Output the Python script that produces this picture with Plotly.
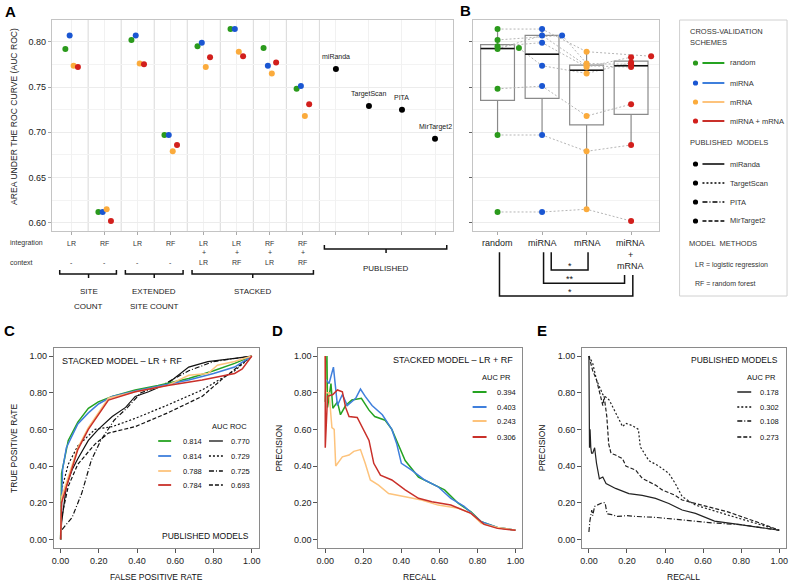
import numpy as np
import plotly.graph_objects as go

W, H = 796, 587
def px(x): return x / W
def py(y): return 1 - y / H

FONT = "Liberation Sans, Arial, sans-serif"

# ---------------- data ----------------
model_integration = ["LR", "RF", "LR", "RF", "LR", "LR", "RF", "RF"]
model_context = ["-", "-", "-", "-", "LR", "RF", "LR", "RF"]
schemes = ["random", "miRNA", "mRNA", "miRNA + mRNA"]
auc_random = [0.792, 0.612, 0.802, 0.697, 0.795, 0.814, 0.793, 0.748]
auc_mirna = [0.807, 0.612, 0.807, 0.697, 0.799, 0.814, 0.7735, 0.751]
auc_mrna = [0.7735, 0.615, 0.776, 0.679, 0.772, 0.789, 0.765, 0.718]
auc_both = [0.772, 0.602, 0.775, 0.686, 0.783, 0.784, 0.777, 0.731]
published = ["miRanda", "TargetScan", "PITA", "MirTarget2"]
auc_published = [0.770, 0.729, 0.725, 0.693]
y_ticks_a = [0.60, 0.65, 0.70, 0.75, 0.80]
unit_ticks = [0, 0.2, 0.4, 0.6, 0.8, 1.0]

# ROC curves (panel C)
roc_green_fpr = [0, 0.005, 0.04, 0.09, 0.145, 0.197, 0.27, 0.39, 0.51, 0.67, 0.80, 0.91, 1.0]
roc_green_tpr = [0, 0.36, 0.54, 0.64, 0.715, 0.75, 0.78, 0.815, 0.84, 0.878, 0.92, 0.96, 1.0]
roc_blue_fpr = [0, 0.01, 0.03, 0.09, 0.145, 0.2, 0.27, 0.39, 0.51, 0.67, 0.80, 0.91, 1.0]
roc_blue_tpr = [0, 0.38, 0.5, 0.63, 0.69, 0.74, 0.78, 0.81, 0.835, 0.87, 0.905, 0.94, 1.0]
roc_orange_fpr = [0, 0.005, 0.04, 0.09, 0.145, 0.197, 0.25, 0.39, 0.56, 0.67, 0.77, 0.82, 0.91, 1.0]
roc_orange_tpr = [0, 0.23, 0.34, 0.5, 0.61, 0.69, 0.77, 0.805, 0.84, 0.895, 0.905, 0.95, 0.97, 1.0]
roc_red_fpr = [0, 0.005, 0.04, 0.09, 0.145, 0.197, 0.25, 0.39, 0.56, 0.74, 0.82, 0.91, 0.95, 1.0]
roc_red_tpr = [0, 0.2, 0.32, 0.49, 0.6, 0.68, 0.76, 0.805, 0.84, 0.87, 0.887, 0.905, 0.93, 1.0]
roc_miranda_fpr = [0, 0.005, 0.03, 0.06, 0.09, 0.145, 0.197, 0.27, 0.34, 0.39, 0.46, 0.56, 0.67, 0.77, 0.91, 1.0]
roc_miranda_tpr = [0, 0.09, 0.29, 0.38, 0.44, 0.54, 0.6, 0.67, 0.72, 0.78, 0.805, 0.85, 0.94, 0.97, 0.987, 1.0]
roc_targetscan_fpr = [0, 0.005, 0.04, 0.09, 0.18, 0.27, 0.39, 0.56, 0.74, 0.91, 1.0]
roc_targetscan_tpr = [0, 0.27, 0.41, 0.51, 0.6, 0.615, 0.66, 0.733, 0.815, 0.92, 1.0]
roc_pita_fpr = [0, 0.005, 0.06, 0.11, 0.16, 0.21, 0.28, 0.35, 0.42, 0.53, 0.67, 0.8, 1.0]
roc_pita_tpr = [0, 0.05, 0.12, 0.25, 0.43, 0.54, 0.65, 0.72, 0.8, 0.84, 0.92, 0.97, 1.0]
roc_mirtarget2_fpr = [0, 0.005, 0.04, 0.09, 0.18, 0.25, 0.39, 0.56, 0.74, 0.84, 0.95, 1.0]
roc_mirtarget2_tpr = [0, 0.12, 0.29, 0.41, 0.52, 0.58, 0.615, 0.69, 0.78, 0.87, 0.96, 1.0]
auc_roc_stacked = ["0.814", "0.814", "0.788", "0.784"]
auc_roc_published = ["0.770", "0.729", "0.725", "0.693"]

# PR curves (panel D)
pr_green_rec = [0, 0.009, 0.012, 0.03, 0.04, 0.064, 0.08, 0.107, 0.14, 0.19, 0.23, 0.26, 0.315, 0.35, 0.385, 0.42, 0.49, 0.56, 0.627, 0.7, 0.766, 0.82, 0.905, 1.0]
pr_green_prec = [0.75, 1.0, 0.72, 0.85, 0.715, 0.75, 0.68, 0.73, 0.76, 0.77, 0.705, 0.67, 0.65, 0.6, 0.515, 0.43, 0.34, 0.305, 0.27, 0.196, 0.15, 0.096, 0.065, 0.05]
pr_blue_rec = [0, 0.005, 0.02, 0.043, 0.064, 0.09, 0.116, 0.16, 0.185, 0.21, 0.246, 0.3, 0.35, 0.376, 0.4, 0.454, 0.523, 0.593, 0.66, 0.73, 0.82, 0.905, 1.0]
pr_blue_prec = [0.87, 0.87, 0.85, 0.94, 0.73, 0.79, 0.73, 0.77, 0.82, 0.78, 0.73, 0.68, 0.6, 0.52, 0.415, 0.378, 0.324, 0.287, 0.224, 0.18, 0.096, 0.065, 0.05]
pr_orange_rec = [0, 0.003, 0.02, 0.035, 0.047, 0.055, 0.09, 0.125, 0.15, 0.185, 0.21, 0.237, 0.28, 0.333, 0.42, 0.506, 0.593, 0.7, 0.766, 0.82, 0.905, 1.0]
pr_orange_prec = [1.0, 0.8, 0.8, 0.61, 0.6, 0.4, 0.45, 0.46, 0.48, 0.49, 0.415, 0.324, 0.296, 0.25, 0.233, 0.215, 0.187, 0.17, 0.142, 0.087, 0.065, 0.05]
pr_red_rec = [0, 0, 0.012, 0.04, 0.064, 0.09, 0.107, 0.125, 0.168, 0.194, 0.23, 0.255, 0.29, 0.35, 0.42, 0.49, 0.56, 0.66, 0.766, 0.835, 0.905, 1.0]
pr_red_prec = [1.0, 0.5, 0.78, 0.79, 0.815, 0.805, 0.72, 0.67, 0.665, 0.615, 0.54, 0.415, 0.35, 0.324, 0.27, 0.224, 0.205, 0.187, 0.142, 0.082, 0.06, 0.05]
auc_pr_stacked = ["0.394", "0.403", "0.243", "0.306"]

# PR curves (panel E)
pr_miranda_rec = [0, 0.003, 0.006, 0.01, 0.014, 0.02, 0.03, 0.04, 0.055, 0.073, 0.09, 0.14, 0.21, 0.28, 0.35, 0.42, 0.49, 0.56, 0.66, 0.766, 0.905, 1.0]
pr_miranda_prec = [1.0, 0.5, 0.6, 0.5, 0.47, 0.47, 0.5, 0.415, 0.33, 0.34, 0.305, 0.278, 0.25, 0.24, 0.224, 0.196, 0.16, 0.142, 0.1, 0.085, 0.065, 0.05]
pr_targetscan_rec = [0, 0.02, 0.04, 0.073, 0.107, 0.14, 0.177, 0.194, 0.23, 0.26, 0.27, 0.315, 0.367, 0.42, 0.454, 0.49, 0.56, 0.73, 0.905, 1.0]
pr_targetscan_prec = [1.0, 0.96, 0.87, 0.79, 0.76, 0.69, 0.615, 0.633, 0.62, 0.6, 0.505, 0.43, 0.4, 0.36, 0.305, 0.233, 0.187, 0.133, 0.078, 0.05]
pr_pita_rec = [0, 0.005, 0.015, 0.02, 0.03, 0.05, 0.07, 0.085, 0.095, 0.12, 0.15, 0.2, 0.25, 0.35, 0.45, 0.55, 0.65, 0.8, 0.9, 1.0]
pr_pita_prec = [0.04, 0.1, 0.16, 0.13, 0.18, 0.19, 0.2, 0.2, 0.14, 0.135, 0.125, 0.13, 0.125, 0.12, 0.11, 0.1, 0.09, 0.08, 0.065, 0.05]
pr_mirtarget2_rec = [0, 0.02, 0.04, 0.055, 0.073, 0.08, 0.094, 0.104, 0.116, 0.14, 0.177, 0.194, 0.246, 0.28, 0.35, 0.385, 0.454, 0.49, 0.593, 0.73, 0.905, 1.0]
pr_mirtarget2_prec = [1.0, 0.92, 0.87, 0.8, 0.73, 0.78, 0.67, 0.52, 0.47, 0.46, 0.44, 0.4, 0.378, 0.333, 0.296, 0.27, 0.24, 0.215, 0.187, 0.15, 0.087, 0.05]
auc_pr_published = ["0.178", "0.302", "0.108", "0.273"]

# ---------------- styles ----------------
dot_colors = ["#2b9a1c", "#1a56d2", "#fbab3c", "#d21f1c"]
line_colors = ["#25a321", "#3f7fdc", "#fdc37c", "#c9302a"]
pub_dash = ["solid", "2px,2px", "5px,2px,1px,2px", "4px,2px"]
a_offsets = [-0.19, -0.06, 0.06, 0.19]
b_jitter = [[0, 0, 0, 0, 0, 0, 0.48, 0],
            [0, 0, 0.45, 0, 0, 0, 0, 0],
            [0, 0, 0, 0, 0, 0, 0, 0],
            [0, 0, 0, 0, 0, 0.45, 0, 0]]

fig = go.Figure()
anns = []
shapes = []

def text(t, X, Y, size=8, xa="center", ya="middle", color="#222", bold=False, angle=0):
    if bold:
        t = "<b>" + t + "</b>"
    anns.append(dict(text=t, x=px(X), y=py(Y), xref="paper", yref="paper", showarrow=False,
                     xanchor=xa, yanchor=ya, textangle=angle,
                     font=dict(size=size, color=color, family=FONT)))

def seg(x0, y0, x1, y1, color="#000", width=1.5, dash="solid"):
    shapes.append(dict(type="line", xref="paper", yref="paper", x0=px(x0), y0=py(y0),
                       x1=px(x1), y1=py(y1), line=dict(color=color, width=width, dash=dash)))

def path(points, color="#111", width=1.5):
    d = "M " + " L ".join(f"{px(a)},{py(b)}" for a, b in points)
    shapes.append(dict(type="path", xref="paper", yref="paper", path=d,
                       line=dict(color=color, width=width)))

def dot(X, Y, color, r=2.6):
    shapes.append(dict(type="circle", xref="paper", yref="paper", x0=px(X - r), x1=px(X + r),
                       y0=py(Y + r), y1=py(Y - r), fillcolor=color, line=dict(width=0)))

all_auc = [auc_random, auc_mirna, auc_mrna, auc_both]

# ---------------- Panel A ----------------
cols = list(range(1, 9))
for k, vals in enumerate(all_auc):
    fig.add_trace(go.Scatter(x=[c + a_offsets[k] for c in cols], y=vals, mode="markers",
                             marker=dict(color=dot_colors[k], size=6), xaxis="x", yaxis="y",
                             showlegend=False, hoverinfo="skip"))
pub_x = [9, 10, 11, 12]
fig.add_trace(go.Scatter(x=pub_x, y=auc_published, mode="markers",
                         marker=dict(color="#000", size=6), xaxis="x", yaxis="y",
                         showlegend=False, hoverinfo="skip"))
for name, xv, yv in zip(published, pub_x, auc_published):
    anns.append(dict(text=name, x=xv, y=yv, xref="x", yref="y", yshift=12, showarrow=False,
                     font=dict(size=7, color="#222", family=FONT)))
for b in [1.5, 2.5, 3.5, 4.5, 5.5, 6.5, 7.5, 8.5]:
    shapes.append(dict(type="line", xref="x", yref="y domain", x0=b, x1=b, y0=0, y1=1,
                       line=dict(color="#d9d9d9", width=1), layer="below"))
for c, lab in zip(cols, model_integration):
    anns.append(dict(text=lab, x=c, y=py(243), xref="x", yref="paper", showarrow=False,
                     font=dict(size=7, color="#333", family=FONT)))
for c, lab in zip(cols, model_context):
    anns.append(dict(text=lab, x=c, y=py(262), xref="x", yref="paper", showarrow=False,
                     font=dict(size=7, color="#333", family=FONT)))
    if lab != "-":
        anns.append(dict(text="+", x=c, y=py(252.5), xref="x", yref="paper", showarrow=False,
                         font=dict(size=7, color="#333", family=FONT)))
text("integration", 6, 243, 7, xa="left", color="#333")
text("context", 6, 262, 7, xa="left", color="#333")
text("AREA UNDER THE ROC CURVE (AUC ROC)", 12, 116, 8.6, angle=-90, color="#222")

for x0, x1, xc in [(58, 115, 87), (124, 182, 153), (191, 313, 252)]:
    path([(x0, 270), (x0, 274), (x1, 274), (x1, 270)])
    seg(xc, 274, xc, 278, "#111", 1.5)
path([(324, 245), (324, 249), (447, 249), (447, 245)])
seg(386, 249, 386, 253, "#111", 1.5)
text("SITE", 87, 292, 8)
text("COUNT", 87, 306, 8)
text("EXTENDED", 153, 292, 8)
text("SITE COUNT", 153, 306, 8)
text("STACKED", 252, 292, 8)
text("PUBLISHED", 386, 268, 8)

# ---------------- Panel B ----------------
for m in range(8):
    xs = [k + 1 + b_jitter[k][m] for k in range(4)]
    ys = [all_auc[k][m] for k in range(4)]
    fig.add_trace(go.Scatter(x=xs, y=ys, mode="lines", line=dict(color="#b5b5b5", width=1, dash="2px,2px"),
                             xaxis="x2", yaxis="y2", showlegend=False, hoverinfo="skip"))
for k, vals in enumerate(all_auc):
    v = np.array(vals)
    q1, med, q3 = np.percentile(v, [25, 50, 75])
    iqr = q3 - q1
    lf = v[v >= q1 - 1.5 * iqr].min()
    uf = v[v <= q3 + 1.5 * iqr].max()
    fig.add_trace(go.Box(x=[k + 1], q1=[q1], median=[med], q3=[q3], lowerfence=[lf], upperfence=[uf],
                         orientation="v", width=0.76, whiskerwidth=0, boxpoints=False,
                         line=dict(color="#8a8a8a", width=1.2), fillcolor="rgba(255,255,255,0)",
                         xaxis="x2", yaxis="y2", showlegend=False, hoverinfo="skip"))
    fig.add_trace(go.Scatter(x=[k + 1 - 0.38, k + 1 + 0.38], y=[med, med], mode="lines",
                             line=dict(color="#111", width=1.5), xaxis="x2", yaxis="y2",
                             showlegend=False, hoverinfo="skip"))
for k, vals in enumerate(all_auc):
    fig.add_trace(go.Scatter(x=[k + 1 + j for j in b_jitter[k]], y=vals, mode="markers",
                             marker=dict(color=dot_colors[k], size=6), xaxis="x2", yaxis="y2",
                             showlegend=False, hoverinfo="skip"))
b_label_x = [498, 543, 588, 632]
for xl, lab in zip(b_label_x, ["random", "miRNA", "mRNA", "miRNA"]):
    text(lab, xl, 243, 9, color="#222")
text("+", 632, 254.5, 9, color="#222")
text("mRNA", 632, 266, 9, color="#222")
path([(552, 252.3), (552, 270), (589, 270), (589, 252.3)], "#111", 1.5)
path([(544.3, 252.3), (544.3, 283.3), (625.7, 283.3), (625.7, 275)], "#111", 1.5)
path([(500, 252.3), (500, 296), (634, 296), (634, 275)], "#111", 1.5)
text("*", 571, 266, 9, color="#111")
text("**", 571, 279, 9, color="#111")
text("*", 571, 292, 9, color="#111")

# legend box
shapes.append(dict(type="rect", xref="paper", yref="paper", x0=px(681), x1=px(789), y0=py(296), y1=py(20),
                   line=dict(color="#d0d0d0", width=1)))
text("CROSS-VALIDATION", 689, 31, 7.5, xa="left", color="#333")
text("SCHEMES", 689, 43, 7.5, xa="left", color="#333")
for k, (yy, lab) in enumerate(zip([63, 83, 102, 121], schemes)):
    dot(697, yy, dot_colors[k])
    seg(704, yy, 726, yy, line_colors[k], 2)
    text(lab, 730, yy, 7.5, xa="left", color="#333")
text("PUBLISHED  MODELS", 689, 143, 7.5, xa="left", color="#333")
for k, (yy, lab) in enumerate(zip([164, 183, 202, 221], published)):
    dot(697, yy, "#000")
    seg(704, yy, 726, yy, "#000", 1.5, pub_dash[k])
    text(lab, 730, yy, 7.5, xa="left", color="#333")
text("MODEL  METHODS", 688, 243, 7.5, xa="left", color="#333")
text("LR = logistic regression", 694, 265, 7, xa="left", color="#333")
text("RF = random forest", 694, 284, 7, xa="left", color="#333")

# ---------------- Panel C ----------------
stacked_roc = [(roc_green_fpr, roc_green_tpr), (roc_blue_fpr, roc_blue_tpr),
               (roc_orange_fpr, roc_orange_tpr), (roc_red_fpr, roc_red_tpr)]
pub_roc = [(roc_miranda_fpr, roc_miranda_tpr), (roc_targetscan_fpr, roc_targetscan_tpr),
           (roc_pita_fpr, roc_pita_tpr), (roc_mirtarget2_fpr, roc_mirtarget2_tpr)]
for k, (xx, yy) in enumerate(pub_roc):
    fig.add_trace(go.Scatter(x=xx, y=yy, mode="lines", line=dict(color="#111", width=1.2, dash=pub_dash[k]),
                             xaxis="x3", yaxis="y3", showlegend=False, hoverinfo="skip"))
for k, (xx, yy) in enumerate(stacked_roc):
    fig.add_trace(go.Scatter(x=xx, y=yy, mode="lines", line=dict(color=line_colors[k], width=1.5),
                             xaxis="x3", yaxis="y3", showlegend=False, hoverinfo="skip"))
text("STACKED MODEL – LR + RF", 58, 361, 9, xa="left", color="#111")
text("PUBLISHED MODELS", 250, 536, 8.5, xa="right", color="#111")
text("AUC ROC", 248, 426, 7.5, xa="right", color="#111")
for k, yy in enumerate([441, 456, 471, 485]):
    seg(157, yy, 170, yy, line_colors[k], 1.8)
    text(auc_roc_stacked[k], 180, yy, 7.5, xa="left", color="#111")
    seg(208, yy, 222, yy, "#111", 1.3, pub_dash[k])
    text(auc_roc_published[k], 228, yy, 7.5, xa="left", color="#111")
text("FALSE POSITIVE RATE", 155, 577, 8.5, color="#111")
text("TRUE POSITIVE RATE", 12, 448, 8.5, angle=-90, color="#111")

# ---------------- Panel D ----------------
stacked_pr = [(pr_green_rec, pr_green_prec), (pr_blue_rec, pr_blue_prec),
              (pr_orange_rec, pr_orange_prec), (pr_red_rec, pr_red_prec)]
for k, (xx, yy) in enumerate(stacked_pr):
    fig.add_trace(go.Scatter(x=xx, y=yy, mode="lines", line=dict(color=line_colors[k], width=1.5),
                             xaxis="x4", yaxis="y4", showlegend=False, hoverinfo="skip"))
text("STACKED MODEL – LR + RF", 516, 360, 9, xa="right", color="#111")
text("AUC PR", 514, 377, 7.5, xa="right", color="#111")
for k, yy in enumerate([392, 407, 421, 437]):
    seg(473, yy, 487, yy, line_colors[k], 2)
    text(auc_pr_stacked[k], 495, yy, 7.5, xa="left", color="#111")
text("RECALL", 420, 577, 8.5, color="#111")
text("PRECISION", 278, 448, 8.5, angle=-90, color="#111")

# ---------------- Panel E ----------------
pub_pr = [(pr_miranda_rec, pr_miranda_prec), (pr_targetscan_rec, pr_targetscan_prec),
          (pr_pita_rec, pr_pita_prec), (pr_mirtarget2_rec, pr_mirtarget2_prec)]
for k, (xx, yy) in enumerate(pub_pr):
    fig.add_trace(go.Scatter(x=xx, y=yy, mode="lines", line=dict(color="#222", width=1.2, dash=pub_dash[k]),
                             xaxis="x5", yaxis="y5", showlegend=False, hoverinfo="skip"))
text("PUBLISHED MODELS", 782, 360, 8.5, xa="right", color="#111")
text("AUC PR", 780, 377, 7.5, xa="right", color="#111")
for k, yy in enumerate([392, 407, 421, 437]):
    seg(739, yy, 753, yy, "#111", 1.4, pub_dash[k])
    text(auc_pr_published[k], 760, yy, 7.5, xa="left", color="#111")
text("RECALL", 685, 577, 8.5, color="#111")
text("PRECISION", 543, 448, 8.5, angle=-90, color="#111")

# panel letters
for lab, X, Y in [("A", 9, 11), ("B", 466, 10), ("C", 8, 330), ("D", 277, 330), ("E", 543, 330)]:
    text(lab, X, Y, 15, bold=True, color="#000")

# ---------------- axes ----------------
tick_font = dict(size=9, color="#222", family=FONT)
def grid_axis(domain, rng, **kw):
    d = dict(domain=domain, range=rng, showline=True, mirror=True, linecolor="#c4c4c4", linewidth=1,
             zeroline=False, tickfont=tick_font)
    d.update(kw)
    return d

unit_text = [f"{v:.2f}" for v in unit_ticks]
def unit_axis(domain, rng, anchor):
    return dict(domain=domain, range=rng, anchor=anchor, tickvals=unit_ticks, ticktext=unit_text,
                showline=True, mirror=True, linecolor="#8a8a8a", linewidth=1, ticks="outside", ticklen=4,
                tickcolor="#555", showgrid=False, zeroline=False, tickfont=tick_font)

minor_y = dict(tickvals=[0.625, 0.675, 0.725, 0.775, 0.825], showgrid=True, gridcolor="#f3f3f3", ticks="")

fig.update_layout(
    width=W, height=H, margin=dict(l=0, r=0, t=0, b=0),
    paper_bgcolor="white", plot_bgcolor="white", font=dict(family=FONT),
    showlegend=False,
    xaxis=grid_axis([px(50), px(453)], [0.398, 12.536], anchor="y", tickvals=list(range(1, 13)),
                    showticklabels=False, showgrid=True, gridcolor="#f1f1f1", ticks="outside",
                    ticklen=3, tickcolor="#aaa"),
    yaxis=grid_axis([py(231), py(20)], [0.591, 0.824], anchor="x", tickvals=y_ticks_a,
                    ticktext=[f"{v:.2f}" for v in y_ticks_a], showgrid=True, gridcolor="#ececec",
                    ticks="outside", ticklen=3, tickcolor="#aaa", minor=minor_y),
    xaxis2=grid_axis([px(473), px(660)], [0.44, 4.62], anchor="y2", tickvals=[1, 2, 3, 4],
                     showticklabels=False, showgrid=False, ticks="outside", ticklen=3, tickcolor="#aaa"),
    yaxis2=grid_axis([py(231), py(20)], [0.591, 0.824], anchor="x2", tickvals=y_ticks_a,
                     showticklabels=False, showgrid=True, gridcolor="#ececec", ticks="outside",
                     ticklen=3, tickcolor="#666", minor=minor_y),
    xaxis3=unit_axis([px(52), px(258)], [-0.036, 1.036], "y3"),
    yaxis3=unit_axis([py(548), py(348)], [-0.047, 1.044], "x3"),
    xaxis4=unit_axis([px(318), px(523)], [-0.036, 1.036], "y4"),
    yaxis4=unit_axis([py(548), py(348)], [-0.047, 1.044], "x4"),
    xaxis5=unit_axis([px(583), px(788)], [-0.036, 1.036], "y5"),
    yaxis5=unit_axis([py(548), py(348)], [-0.047, 1.044], "x5"),
    annotations=anns, shapes=shapes,
)

fig.write_html("out.html", config={"displayModeBar": False},
               post_script="document.body.style.margin='0px';document.body.style.padding='0px';"
                           "document.documentElement.style.overflow='hidden';")
